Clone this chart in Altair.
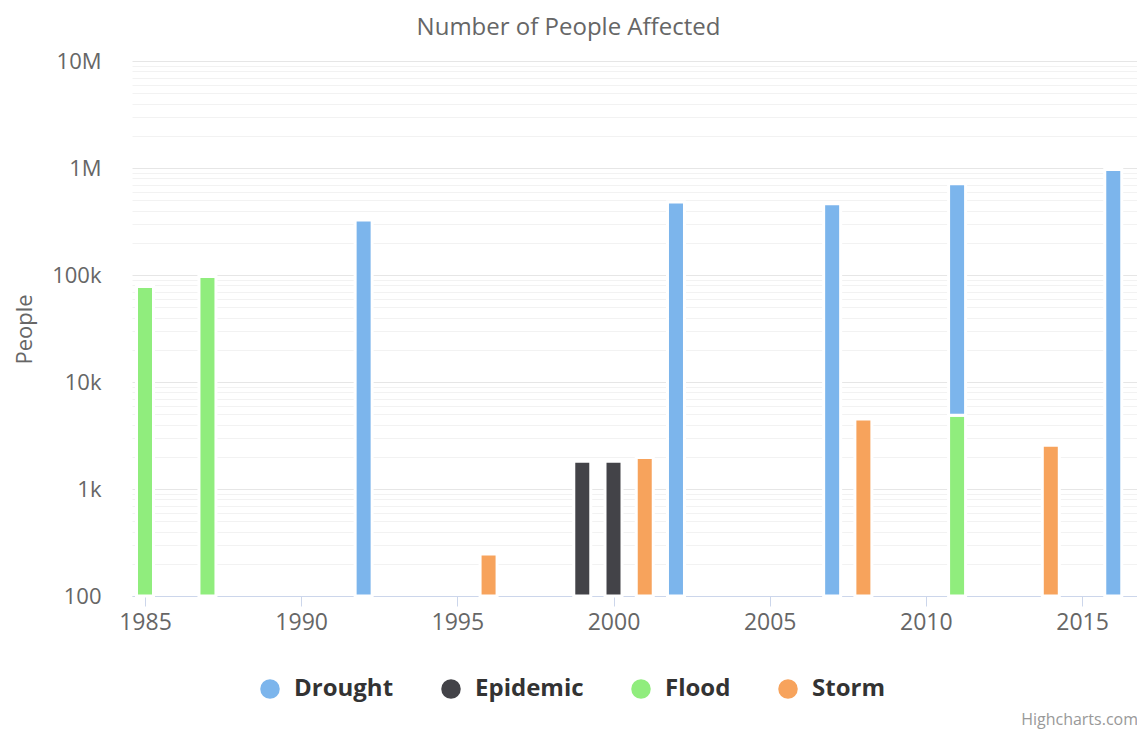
import altair as alt
import pandas as pd

# ---- data ----
series_names = ["Drought", "Epidemic", "Flood", "Storm"]
series_colors = ["#7cb5ec", "#434348", "#90ed7d", "#f7a35c"]

drought_years = [1992, 2002, 2007, 2011, 2016]
drought_values = [327000, 482000, 464000, 709000, 966000]
epidemic_years = [1999, 2000]
epidemic_values = [1820, 1820]
flood_years = [1985, 1987, 2011]
flood_values = [78000, 97000, 4900]
storm_years = [1996, 2001, 2008, 2014]
storm_values = [247, 1970, 4500, 2570]

x_ticks = [1985, 1990, 1995, 2000, 2005, 2010, 2015]
y_major = [100, 1000, 10000, 100000, 1000000, 10000000]
y_minor_mult = [2, 3, 4, 5, 6, 7, 8, 9]

y_min, y_max = 100, 10000000
x_domain = [1984.584, 2016.76]

# ---- build stacked table (Highcharts reversed stacks: last series at bottom) ----
series = {
    "Drought": (drought_years, drought_values),
    "Epidemic": (epidemic_years, epidemic_values),
    "Flood": (flood_years, flood_values),
    "Storm": (storm_years, storm_values),
}
rows = []
running = {}
for name in reversed(series_names):
    yrs, vals = series[name]
    for yr, v in zip(yrs, vals):
        prev = running.get(yr, 0)
        rows.append({"year": yr, "type": name, "value": v,
                     "start": max(prev, y_min), "end": prev + v})
        running[yr] = prev + v
df = pd.DataFrame(rows)

y_values = []
for m in y_major:
    y_values.append(m)
    if m < y_max:
        y_values += [k * m for k in y_minor_mult]

FONT = "Open Sans"
is_major = "abs(log(datum.value)/LN10 - round(log(datum.value)/LN10)) < 1e-6"

bars = alt.Chart(df).mark_bar(size=17, stroke="white", strokeWidth=3).encode(
    x=alt.X("year:Q",
            scale=alt.Scale(domain=x_domain, nice=False, zero=False, padding=0),
            axis=alt.Axis(values=x_ticks, format="d", title=None, grid=False,
                          domainColor="#ccd6eb", tickColor="#ccd6eb", tickSize=10,
                          labelFontSize=23, labelColor="#666666", labelFont=FONT,
                          labelPadding=5, labelOverlap=False)),
    y=alt.Y("end:Q",
            scale=alt.Scale(type="log", domain=[y_min, y_max], nice=False),
            axis=alt.Axis(values=y_values, title="People", domain=False, ticks=False,
                          labelExpr=("(" + is_major + ") ? (datum.value >= 1e6 ? (datum.value/1e6) + 'M' : "
                                     "datum.value >= 1e3 ? (datum.value/1e3) + 'k' : datum.value) : ''"),
                          labelFontSize=22, labelColor="#666666", labelFont=FONT,
                          labelPadding=31, labelOverlap=False, labelBound=False,
                          gridColor={"condition": {"test": is_major, "value": "#e6e6e6"},
                                     "value": "#f2f2f2"},
                          gridWidth=1,
                          titleFont=FONT, titleFontSize=22, titleFontWeight="normal",
                          titleColor="#666666", titleX=-108, titleY=268,
                          titleAngle=270, titleAlign="center", titleBaseline="middle")),
    y2="start:Q",
    color=alt.Color("type:N",
                    scale=alt.Scale(domain=series_names, range=series_colors),
                    legend=alt.Legend(orient="none", legendX=126, legendY=616,
                                      direction="horizontal", title=None,
                                      symbolType="circle", symbolSize=380,
                                      symbolStrokeWidth=0, symbolOpacity=1,
                                      labelFont=FONT, labelFontSize=24,
                                      labelFontWeight="bold", labelColor="#333333",
                                      labelOffset=12, columnPadding=45)),
    tooltip=["year:Q", "type:N", "value:Q"],
)

credit = alt.Chart(pd.DataFrame({"t": ["Highcharts.com"]})).mark_text(
    align="right", baseline="alphabetic", font=FONT, fontSize=16, color="#999999"
).encode(x=alt.value(1006), y=alt.value(664), text="t:N")

chart = alt.layer(bars, credit).properties(
    width=1005, height=535,
    padding={"left": 124, "top": 53, "right": 0, "bottom": 134},
    autosize=alt.AutoSizeParams(type="none"),
    title=alt.TitleParams("Number of People Affected", font=FONT, fontSize=24,
                          fontWeight="normal", color="#666666", anchor="middle",
                          dx=-66, offset=10),
).configure_view(stroke=None)

chart.save("out.html", embed_options={"renderer": "svg", "actions": False})
